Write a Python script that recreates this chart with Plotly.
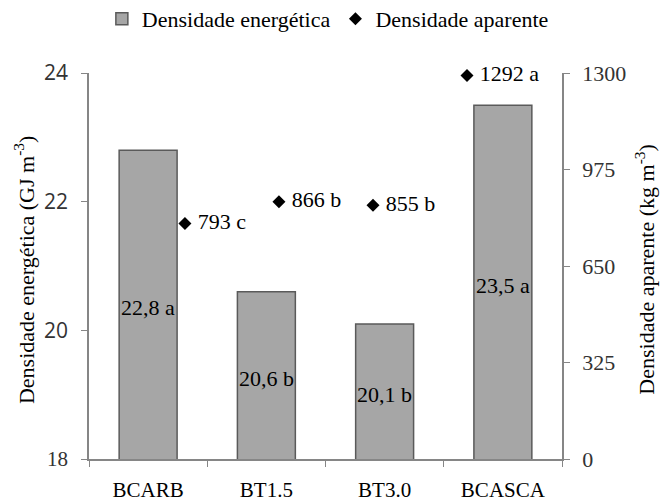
import plotly.graph_objects as go

# Amostras de briquetes
categorias = ["BCARB", "BT1.5", "BT3.0", "BCASCA"]

# Densidade energética (GJ m-3) e letras do teste de médias
dens_energetica = [22.8, 20.6, 20.1, 23.5]
letras_energetica = ["a", "b", "b", "a"]

# Densidade aparente (kg m-3) e letras do teste de médias
dens_aparente = [793, 866, 855, 1292]
letras_aparente = ["c", "b", "b", "a"]

# Eixos
y_esq_ticks = [18, 20, 22, 24]
y_dir_ticks = [0, 325, 650, 975, 1300]

serif = "Liberation Serif, Times New Roman, serif"
sans = "Open Sans, sans-serif"

fig = go.Figure()

fig.add_trace(go.Bar(
    x=categorias,
    y=dens_energetica,
    name="Densidade energética",
    width=0.49,
    marker=dict(color="#a6a6a6", line=dict(color="#5a5a5a", width=1.5)),
    hoverinfo="x+y",
))

fig.add_trace(go.Scatter(
    x=categorias,
    y=dens_aparente,
    name="Densidade aparente",
    mode="markers+text",
    xaxis="x2",
    yaxis="y2",
    cliponaxis=False,
    marker=dict(symbol="diamond", size=10, color="black"),
    text=[f" {v} {l}" for v, l in zip(dens_aparente, letras_aparente)],
    textposition="middle right",
    textfont=dict(family=serif, size=22, color="black"),
))

# Rótulos dentro das barras
for c, v, l in zip(categorias, dens_energetica, letras_energetica):
    fig.add_annotation(
        x=c, y=(y_esq_ticks[0] + v) / 2, xref="x", yref="y",
        text=f"{v:.1f}".replace(".", ",") + f" {l}",
        showarrow=False, yshift=-3,
        font=dict(family=serif, size=22, color="black"),
    )

# Títulos dos eixos
fig.add_annotation(
    x=-0.137, y=0.49, xref="paper", yref="paper", textangle=-90,
    xanchor="center", yanchor="middle",
    text="Densidade energética (GJ m<sup>-3</sup>)", showarrow=False,
    font=dict(family=serif, size=22, color="black"),
)
fig.add_annotation(
    x=1.175, y=0.49, xref="paper", yref="paper", textangle=-90,
    xanchor="center", yanchor="middle",
    text="Densidade aparente (kg m<sup>-3</sup>)", showarrow=False,
    font=dict(family=serif, size=22, color="black"),
)

eixo_cor = "#868686"

fig.update_layout(
    width=665, height=504,
    margin=dict(l=89, r=103, t=73, b=45, autoexpand=False),
    paper_bgcolor="white", plot_bgcolor="white",
    showlegend=True,
    legend=dict(
        orientation="h", x=0.505, y=1.14, xanchor="center", yanchor="middle",
        font=dict(family=serif, size=22, color="black"),
        itemwidth=30, traceorder="normal",
    ),
    xaxis=dict(
        type="category", range=[-0.5, 3.5],
        showline=True, linecolor=eixo_cor, linewidth=1.5,
        ticks="outside", tickson="boundaries", ticklen=6, tickcolor=eixo_cor,
        tickfont=dict(family=serif, size=21, color="black"),
        ticklabelstandoff=11,
        showgrid=False, zeroline=False,
    ),
    xaxis2=dict(
        type="category", overlaying="x", range=[-1.02, 4.01],
        visible=False,
    ),
    yaxis=dict(
        range=[18, 24],
        tickvals=y_esq_ticks,
        ticktext=[f'<span style="font-family:Liberation Serif">{t}</span>' if t == 18 else str(t)
                  for t in y_esq_ticks],
        showline=True, linecolor=eixo_cor, linewidth=1.5,
        ticks="outside", ticklen=6, tickcolor=eixo_cor,
        tickfont=dict(family=sans, size=21, color="#333333"),
        ticklabelstandoff=9,
        showgrid=False, zeroline=False,
    ),
    yaxis2=dict(
        range=[0, 1300], overlaying="y", side="right",
        tickvals=y_dir_ticks,
        showline=True, linecolor=eixo_cor, linewidth=1.5,
        ticks="outside", ticklen=6, tickcolor=eixo_cor,
        tickfont=dict(family=serif, size=22, color="#333333"),
        ticklabelstandoff=8,
        showgrid=False, zeroline=False,
    ),
)

fig.write_html("out.html")
